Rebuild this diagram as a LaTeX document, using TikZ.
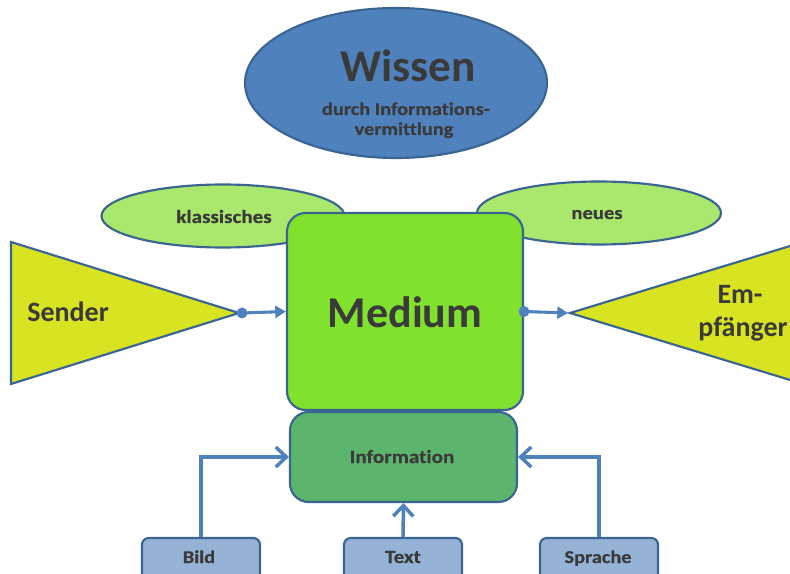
\documentclass[tikz,border=0pt]{standalone}
\usepackage{fontspec}
\setmainfont[Ligatures=NoCommon]{Carlito}
\newfontfamily\widefont[FakeStretch=1.13,Ligatures=NoCommon,BoldFeatures={FakeBold=0.6}]{Carlito}
\usetikzlibrary{shapes.geometric,arrows.meta}
\definecolor{wblue}{HTML}{4F81BD}
\definecolor{edge}{HTML}{3A6593}
\definecolor{lgreen}{HTML}{A9E86C}
\definecolor{mgreen}{HTML}{80E22C}
\definecolor{igreen}{HTML}{5BB56D}
\definecolor{tri}{HTML}{D8E322}
\definecolor{boxblue}{HTML}{95B3D7}
\definecolor{txt}{HTML}{3A3A3A}
\definecolor{arr}{HTML}{4F81BD}
\tikzset{
  ell/.style={ellipse, draw=edge, line width=1.6pt, inner sep=0pt},
  rbox/.style={rectangle, rounded corners=14pt, draw=edge, line width=1.6pt, inner sep=0pt},
  sbox/.style={rectangle, rounded corners=5pt, draw=edge, line width=1.6pt, fill=boxblue, inner sep=0pt, minimum width=118*0.75pt, minimum height=42*0.75pt},
  lbl/.style={anchor=base, font=\bfseries, text=txt, inner sep=0pt},
  flowarrow/.style={draw=arr, line width=2.3pt, -{Triangle[length=8pt,width=9pt]}},
  openarrow/.style={draw=arr, line width=2.6pt, -{Straight Barb[length=8pt,width=15pt,line width=2.6pt]}}
}
\begin{document}
\begin{tikzpicture}[x=0.75pt,y=-0.75pt]
\useasboundingbox (0,0) rectangle (790,574);
\fill[white] (0,0) rectangle (790,574);
% top ellipse
\node[ell, fill=wblue, minimum width=302*0.75pt, minimum height=150*0.75pt] (wissen) at (396,83) {};
\node[lbl, font=\bfseries\fontsize{34}{34}\selectfont] (wissentxt) at (408,82) {Wissen};
\node[lbl, font=\widefont\bfseries\fontsize{13.5}{13.5}\selectfont] (durch) at (406,115) {durch Informations-};
\node[lbl, font=\widefont\bfseries\fontsize{13.5}{13.5}\selectfont] (verm) at (404,135) {vermittlung};
% side ellipses
\node[ell, fill=lgreen, minimum width=243*0.75pt, minimum height=63*0.75pt] (klass) at (223,216) {};
\node[lbl, font=\widefont\bfseries\fontsize{14}{14}\selectfont] (klasstxt) at (224,223) {klassisches};
\node[ell, fill=lgreen, minimum width=244*0.75pt, minimum height=63*0.75pt] (neues) at (599,213) {};
\node[lbl, font=\widefont\bfseries\fontsize{13.7}{13.7}\selectfont] (neuestxt) at (597,219) {neues};
% triangles
\draw[draw=edge, line width=1.6pt, fill=tri] (11,242) -- (239,313) -- (11,384) -- cycle;
\coordinate (sendtip) at (242,313);
\node[lbl, font=\bfseries\fontsize{21}{21}\selectfont] (sender) at (68,322) {Sender};
\draw[draw=edge, line width=1.6pt, fill=tri] (800,243) -- (570,313) -- (800,383) -- cycle;
\coordinate (empftip) at (568,313);
\node[lbl, font=\bfseries\fontsize{21}{21}\selectfont] (em) at (740,304) {Em-};
\node[lbl, font=\bfseries\fontsize{21}{21}\selectfont] (pf) at (743,337) {pfänger};
% medium
\node[rbox, fill=mgreen, minimum width=236*0.75pt, minimum height=197*0.75pt] (medium) at (405,311.5) {};
\node[lbl, font=\bfseries\fontsize{33}{33}\selectfont] (mediumtxt) at (405,328) {Medium};
% information
\node[rbox, fill=igreen, minimum width=227*0.75pt, minimum height=90*0.75pt] (info) at (403.5,457) {};
\node[lbl, font=\widefont\bfseries\fontsize{14}{14}\selectfont] (infotxt) at (402,463) {Information};
% arrows sender -> medium -> empfaenger
\draw[flowarrow] (sendtip) -- (medium.west);
\fill[arr] (sendtip) circle (5.5);
\draw[flowarrow] (medium.east) -- (empftip);
\fill[arr] (medium.east) circle (5.5);
% bottom boxes
\node[sbox] (bild) at (201,559) {};
\node[lbl, font=\widefont\bfseries\fontsize{13.5}{13.5}\selectfont] (bildtxt) at (199,563) {Bild};
\node[sbox] (text) at (403,559) {};
\node[lbl, font=\widefont\bfseries\fontsize{14}{14}\selectfont] (texttxt) at (403,563) {Text};
\node[sbox] (sprache) at (599,559) {};
\node[lbl, font=\widefont\bfseries\fontsize{13.5}{13.5}\selectfont] (sprachetxt) at (598,563) {Sprache};
\draw[openarrow] (bild.north) |- (info.west);
\draw[openarrow] (text.north) -- (info.south);
\draw[openarrow] (sprache.north) |- (info.east);
\end{tikzpicture}
\end{document}
